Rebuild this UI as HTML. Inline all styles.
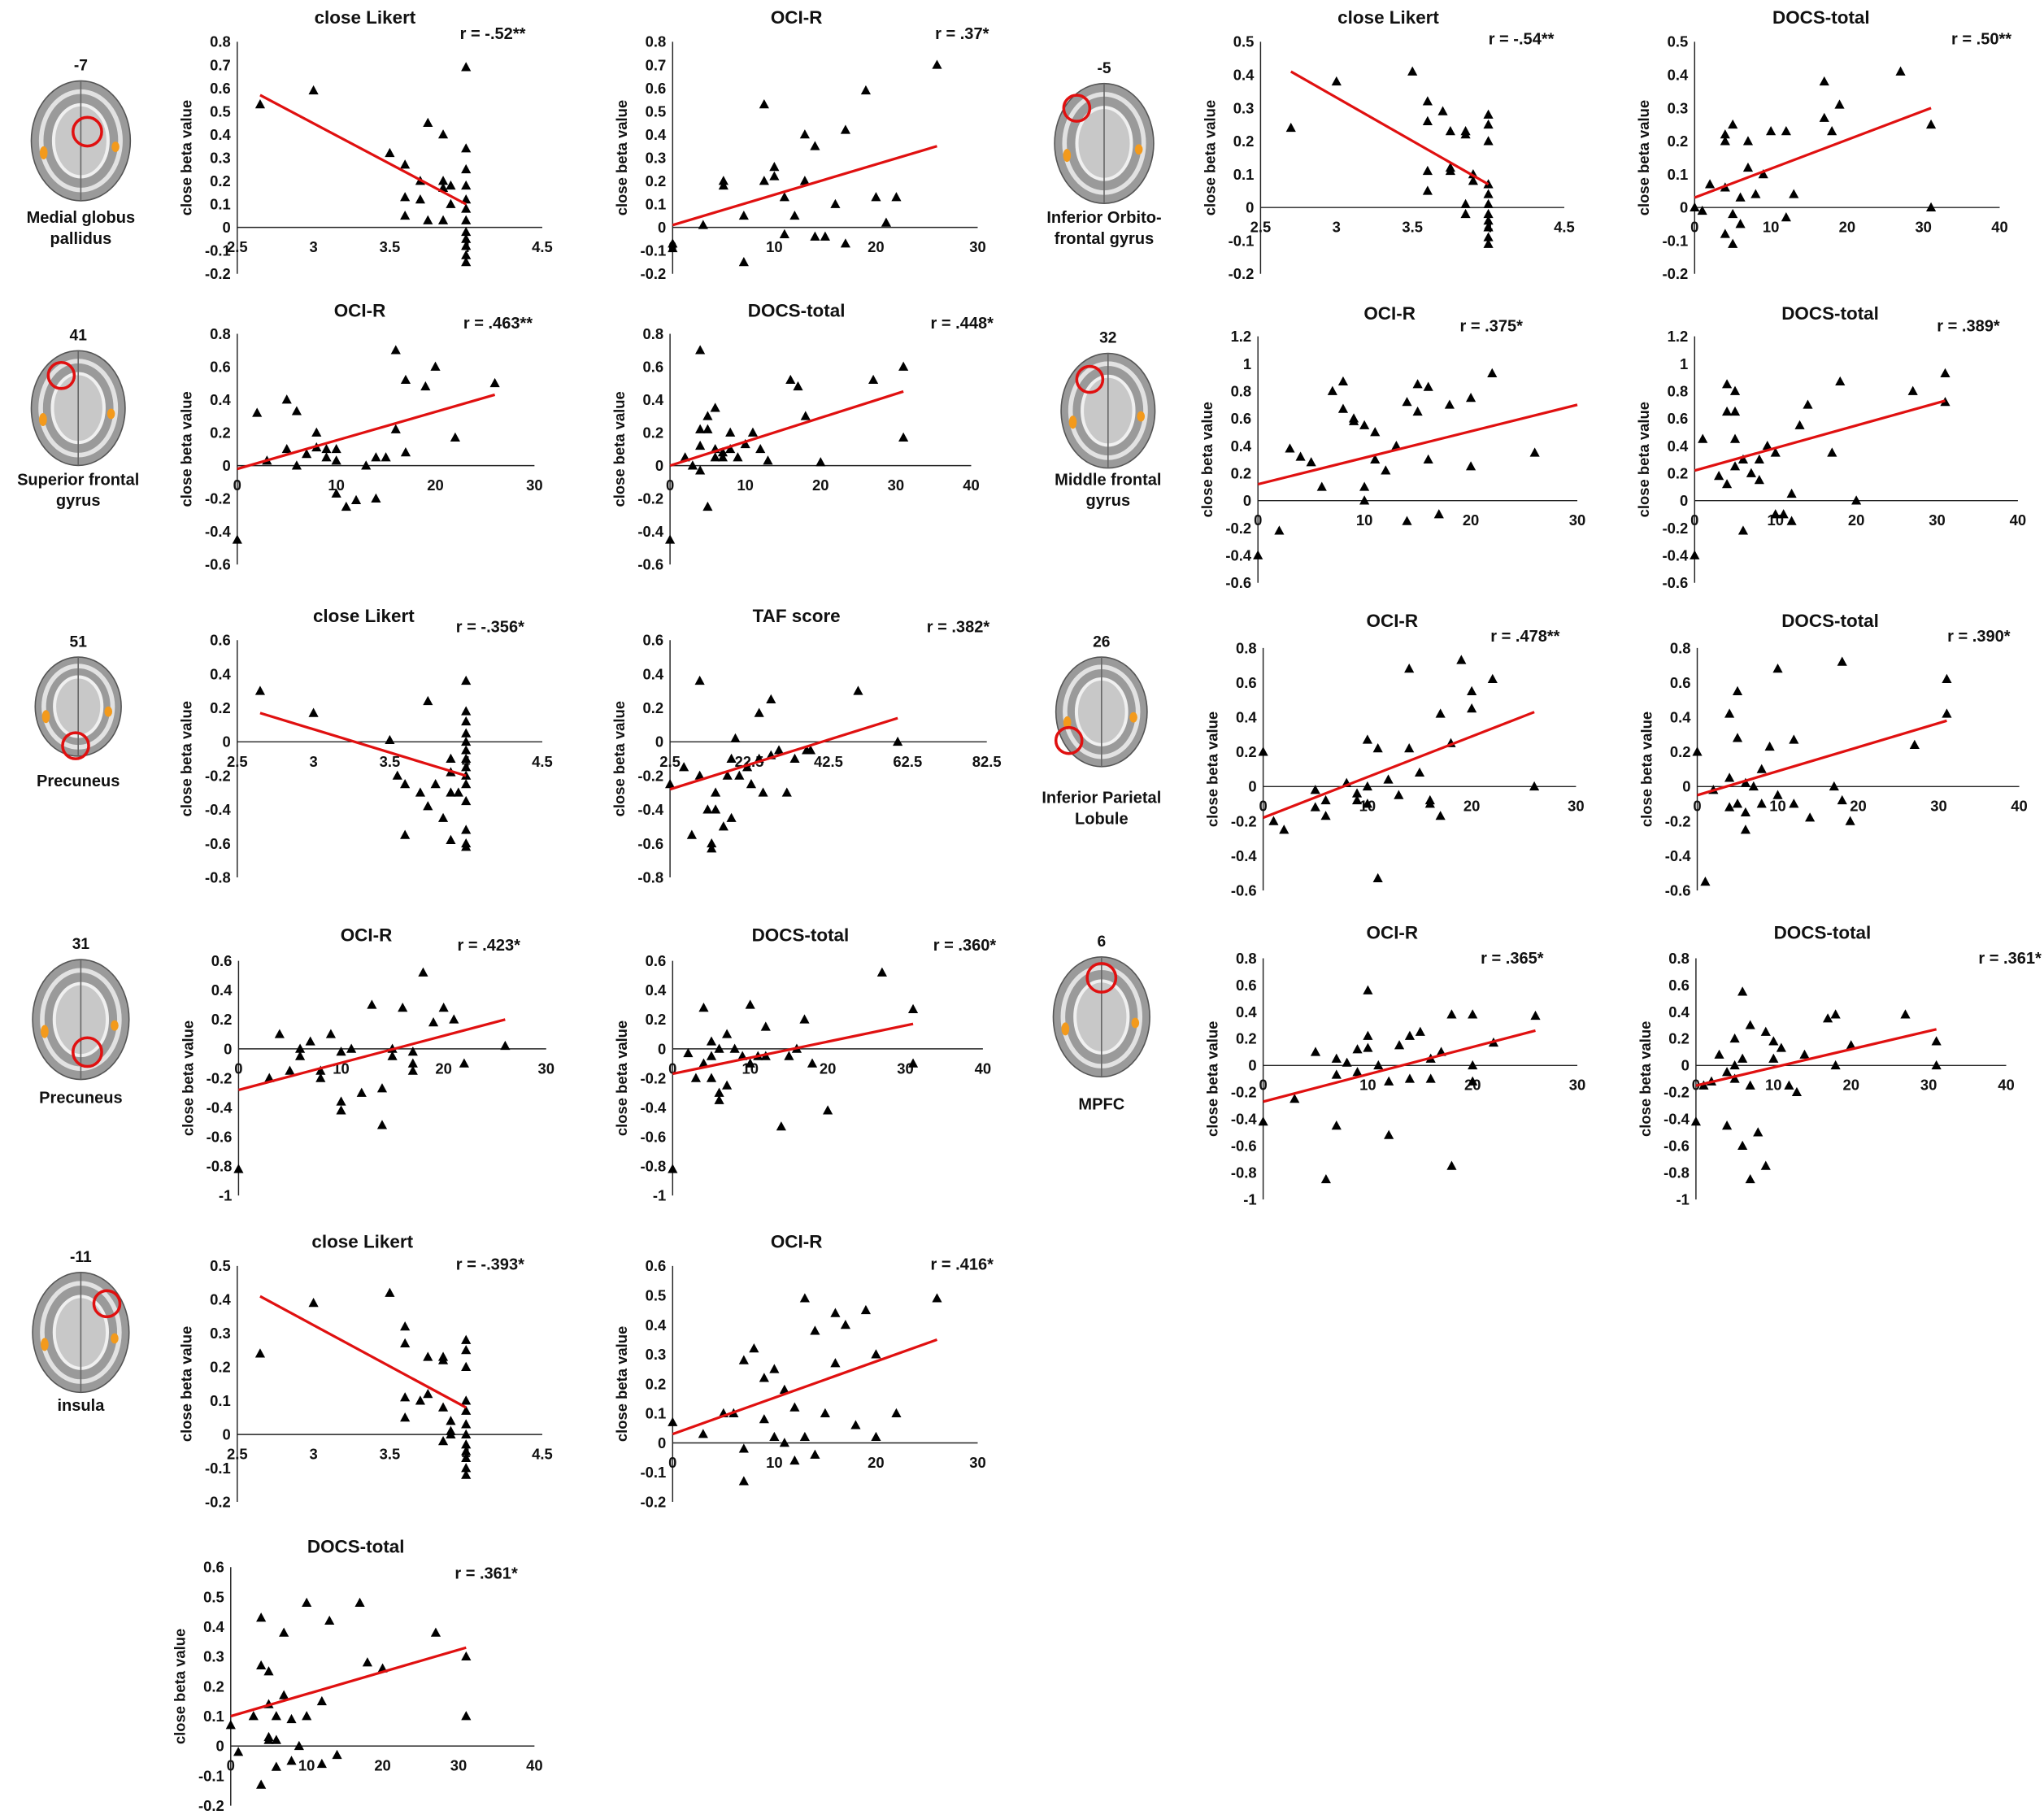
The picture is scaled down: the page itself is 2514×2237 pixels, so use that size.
<!DOCTYPE html>
<html><head><meta charset="utf-8"><style>
html,body{margin:0;padding:0;background:#fff;}
svg{display:block;font-family:"Liberation Sans",Arial,sans-serif;font-weight:bold;}
</style></head><body>
<svg id="fig" width="2514" height="2237" viewBox="0 0 1568 1395.2" xmlns="http://www.w3.org/2000/svg"></svg>
<script>
// ---- data arrays ----
const p1X=[2.65,3.0,3.5,3.6,3.6,3.6,3.75,3.7,3.75,3.85,3.85,3.85,3.85,3.9,3.9,4,4,4,4,4,4,4,4,4,4,4,4,3.7];
const p1Y=[0.53,0.59,0.32,0.27,0.13,0.05,0.45,0.2,0.03,0.4,0.2,0.17,0.03,0.18,0.1,0.69,0.34,0.25,0.18,0.12,0.08,0.03,-0.02,-0.05,-0.08,-0.12,-0.15,0.12];
const p1L=[[2.65,0.57],[4,0.1]];
const p2X=[0,0,5,5,3,7,7,9,9,10,10,11,11,13,14,13,12,14,15,16,17,17,19,20,21,22,26];
const p2Y=[-0.07,-0.09,0.2,0.18,0.01,-0.15,0.05,0.53,0.2,0.26,0.22,0.13,-0.03,0.4,0.35,0.2,0.05,-0.04,-0.04,0.1,0.42,-0.07,0.59,0.13,0.02,0.13,0.7];
const p2L=[[0,0.01],[26,0.35]];
const p3X=[2.7,3.0,3.5,3.6,3.6,3.7,3.6,3.6,3.75,3.75,3.85,3.85,3.75,3.9,3.85,3.85,4,4,4,4,4,4,4,4,4,4,4,3.9];
const p3Y=[0.24,0.38,0.41,0.32,0.26,0.29,0.11,0.05,0.12,0.11,0.23,0.22,0.23,0.1,0.01,-0.02,0.28,0.25,0.2,0.07,0.04,0.01,-0.02,-0.04,-0.06,-0.09,-0.11,0.08];
const p3L=[[2.7,0.41],[4,0.07]];
const p4X=[0,1,2,4,4,4,5,4,5,5,6,6,7,7,8,9,10,12,12,13,17,17,18,19,27,31,31];
const p4Y=[0,-0.01,0.07,0.06,0.2,0.22,0.25,-0.08,-0.11,-0.02,-0.05,0.03,0.12,0.2,0.04,0.1,0.23,0.23,-0.03,0.04,0.27,0.38,0.23,0.31,0.41,0.25,0];
const p4L=[[0,0.03],[31,0.3]];
const p5X=[0,2,3,5,6,5,6,7,8,8,9,9,10,10,10,11,12,13,14,15,16,16,17,17,19,20,22,26,14];
const p5Y=[-0.45,0.32,0.03,0.4,0.33,0.1,0,0.07,0.2,0.11,0.1,0.05,0.1,0.03,-0.17,-0.25,-0.21,0,0.05,0.05,0.7,0.22,0.52,0.08,0.48,0.6,0.17,0.5,-0.2];
const p5L=[[0,-0.02],[26,0.43]];
const p6X=[0,2,3,4,4,4,5,5,5,6,6,6,7,7,8,8,9,10,11,12,13,16,17,18,20,27,31,31,4];
const p6Y=[-0.45,0.05,0,0.7,0.22,0.12,0.3,0.22,-0.25,0.35,0.1,0.05,0.05,0.08,0.1,0.2,0.05,0.13,0.2,0.1,0.03,0.52,0.48,0.3,0.02,0.52,0.6,0.17,-0.03];
const p6L=[[0,0],[31,0.45]];
const p7X=[0,2,3,4,5,6,7,8,8,9,9,10,10,10,11,11,12,13,14,15,15,16,16,17,18,20,20,22,26,14];
const p7Y=[-0.4,-0.22,0.38,0.32,0.28,0.1,0.8,0.87,0.67,0.58,0.6,0.55,0.1,0,0.5,0.3,0.22,0.4,-0.15,0.85,0.65,0.83,0.3,-0.1,0.7,0.75,0.25,0.93,0.35,0.72];
const p7L=[[0,0.12],[30,0.7]];
const p8X=[0,1,3,4,4,4,5,5,5,5,6,6,7,8,8,9,10,10,12,12,13,14,17,18,20,27,31,31,11];
const p8Y=[-0.4,0.45,0.18,0.85,0.65,0.12,0.8,0.65,0.45,0.25,0.3,-0.22,0.2,0.3,0.15,0.4,0.35,-0.1,0.05,-0.15,0.55,0.7,0.35,0.87,0,0.8,0.93,0.72,-0.1];
const p8L=[[0,0.22],[31,0.73]];
const p9X=[2.65,3.0,3.5,3.55,3.6,3.6,3.7,3.75,3.75,3.8,3.85,3.9,3.9,3.9,3.95,4,4,4,4,4,4,4,4,4,4,4,4,4,4,3.9];
const p9Y=[0.3,0.17,0.01,-0.2,-0.25,-0.55,-0.3,0.24,-0.38,-0.25,-0.45,-0.1,-0.18,-0.58,-0.3,0.36,0.18,0.12,0.05,0,-0.05,-0.1,-0.15,-0.2,-0.25,-0.35,-0.52,-0.6,-0.62,-0.3];
const p9L=[[2.65,0.17],[4,-0.2]];
const p10X=[2.5,6,8,10,10,12,13,13,14,14,16,17,18,19,20,22,23,25,25,26,28,28,30,32,34,37,38,50,60,18];
const p10Y=[-0.25,-0.15,-0.55,0.36,-0.2,-0.4,-0.6,-0.63,-0.3,-0.4,-0.5,-0.2,-0.1,0.02,-0.2,-0.15,-0.25,0.17,-0.1,-0.3,0.25,-0.08,-0.05,-0.3,-0.1,-0.05,-0.05,0.3,0,-0.45];
const p10L=[[2.5,-0.28],[60,0.14]];
const p11X=[0,1,2,5,5,6,6,8,9,9,10,10,10,11,11,12,13,14,14,15,16,16,17,17,18,19,20,20,22,26];
const p11Y=[0.2,-0.2,-0.25,-0.02,-0.12,-0.08,-0.17,0.02,-0.08,-0.04,0.27,0,-0.1,0.22,-0.53,0.04,-0.05,0.68,0.22,0.08,-0.1,-0.08,0.42,-0.17,0.25,0.73,0.55,0.45,0.62,0];
const p11L=[[0,-0.18],[26,0.43]];
const p12X=[0,1,2,4,4,4,5,5,5,6,6,6,7,8,8,9,10,10,12,12,14,18,18,19,27,31,31,17];
const p12Y=[0.2,-0.55,-0.02,0.42,0.05,-0.12,0.55,0.28,-0.1,0.02,-0.15,-0.25,0,-0.1,0.1,0.23,0.68,-0.05,0.27,-0.1,-0.18,0.72,-0.08,-0.2,0.24,0.62,0.42,0];
const p12L=[[0,-0.05],[31,0.38]];
const p13X=[0,3,4,5,6,6,7,8,8,9,10,10,10,11,12,13,14,14,15,15,16,17,17,17,18,19,20,21,22,26];
const p13Y=[-0.82,-0.2,0.1,-0.15,0,-0.05,0.05,-0.2,-0.15,0.1,-0.36,-0.42,-0.02,0,-0.3,0.3,-0.52,-0.27,0,-0.05,0.28,-0.02,-0.1,-0.15,0.52,0.18,0.28,0.2,-0.1,0.02];
const p13L=[[0,-0.28],[26,0.2]];
const p14X=[0,2,3,4,4,5,5,5,6,6,6,7,7,8,9,10,10,11,12,12,14,15,17,18,20,27,31,31,16];
const p14Y=[-0.82,-0.03,-0.2,0.28,-0.1,0.05,-0.05,-0.2,0,-0.3,-0.35,0.1,-0.25,0,-0.05,0.3,-0.1,-0.05,0.15,-0.05,-0.53,-0.05,0.2,-0.1,-0.42,0.52,0.27,-0.1,0];
const p14L=[[0,-0.17],[31,0.17]];
const p15X=[0,3,5,6,7,7,7,8,9,9,10,10,10,11,12,12,13,14,14,15,16,17,18,18,20,20,20,22,26,16];
const p15Y=[-0.42,-0.25,0.1,-0.85,0.05,-0.07,-0.45,0.02,0.12,-0.05,0.56,0.22,0.13,0,-0.52,-0.12,0.15,0.22,-0.1,0.25,-0.1,0.1,-0.75,0.38,0.38,0,-0.12,0.17,0.37,0.05];
const p15L=[[0,-0.27],[26,0.26]];
const p16X=[0,1,2,3,4,4,5,5,5,6,6,6,7,7,7,8,9,9,10,10,11,12,13,14,17,18,18,20,27,31,31];
const p16Y=[-0.42,-0.15,-0.12,0.08,-0.05,-0.45,0.2,0,-0.1,0.55,0.05,-0.6,0.3,-0.15,-0.85,-0.5,0.25,-0.75,0.18,0.05,0.13,-0.15,-0.2,0.08,0.35,0.38,0,0.15,0.38,0.18,0];
const p16L=[[0,-0.15],[31,0.27]];
const p17X=[2.65,3.0,3.5,3.6,3.6,3.6,3.6,3.7,3.75,3.75,3.85,3.85,3.85,3.9,3.9,3.9,4,4,4,4,4,4,4,4,4,4,4,4,3.85];
const p17Y=[0.24,0.39,0.42,0.32,0.27,0.11,0.05,0.1,0.12,0.23,0.22,0.23,0.08,0.04,0.01,0,0.28,0.25,0.2,0.1,0.07,0.03,0,-0.03,-0.05,-0.07,-0.1,-0.12,-0.02];
const p17L=[[2.65,0.41],[4,0.08]];
const p18X=[0,3,5,6,7,7,7,8,9,10,10,11,11,12,12,13,13,14,14,15,16,16,17,18,19,20,20,22,26,9];
const p18Y=[0.07,0.03,0.1,0.1,0.28,-0.02,-0.13,0.32,0.22,0.25,0.02,0.18,0,0.12,-0.06,0.49,0.02,0.38,-0.04,0.1,0.44,0.27,0.4,0.06,0.45,0.3,0.02,0.1,0.49,0.08];
const p18L=[[0,0.03],[26,0.35]];
const p19X=[0,1,3,4,4,4,5,5,5,5,6,6,6,7,7,8,9,10,10,12,12,13,14,17,18,20,27,31,31,8];
const p19Y=[0.07,-0.02,0.1,0.43,0.27,-0.13,0.25,0.14,0.03,0.02,0.1,0.02,-0.07,0.38,0.17,0.09,0,0.48,0.1,0.15,-0.06,0.42,-0.03,0.48,0.28,0.26,0.38,0.3,0.1,-0.05];
const p19L=[[0,0.1],[31,0.33]];
const likertTicks=[2.5,3,3.5,4,4.5];
const ociTicks=[0,10,20,30];
const docsTicks=[0,10,20,30,40];
const tafTicks=[2.5,22.5,42.5,62.5,82.5];

// ---- layout (pixel positions, not data) ----
const panels=[
 {n:1,X:p1X,Y:p1Y,L:p1L,t:"close Likert",r:"r = -.52**",x0:182,x1:416,xmin:2.5,xmax:4.5,xt:likertTicks,yt:32,yb:210,ymin:-0.2,ymax:0.8,ys:0.1,tx:280,ty:18,rx:378,ry:30},
 {n:2,X:p2X,Y:p2Y,L:p2L,t:"OCI-R",r:"r = .37*",x0:516,x1:750,xmin:0,xmax:30,xt:ociTicks,yt:32,yb:210,ymin:-0.2,ymax:0.8,ys:0.1,tx:611,ty:18,rx:738,ry:30},
 {n:3,X:p3X,Y:p3Y,L:p3L,t:"close Likert",r:"r = -.54**",x0:967,x1:1200,xmin:2.5,xmax:4.5,xt:likertTicks,yt:32,yb:210,ymin:-0.2,ymax:0.5,ys:0.1,tx:1065,ty:18,rx:1167,ry:34},
 {n:4,X:p4X,Y:p4Y,L:p4L,t:"DOCS-total",r:"r = .50**",x0:1300,x1:1534,xmin:0,xmax:40,xt:docsTicks,yt:32,yb:210,ymin:-0.2,ymax:0.5,ys:0.1,tx:1397,ty:18,rx:1520,ry:34},
 {n:5,X:p5X,Y:p5Y,L:p5L,t:"OCI-R",r:"r = .463**",x0:182,x1:410,xmin:0,xmax:30,xt:ociTicks,yt:256,yb:433,ymin:-0.6,ymax:0.8,ys:0.2,tx:276,ty:243,rx:382,ry:252},
 {n:6,X:p6X,Y:p6Y,L:p6L,t:"DOCS-total",r:"r = .448*",x0:514,x1:745,xmin:0,xmax:40,xt:docsTicks,yt:256,yb:433,ymin:-0.6,ymax:0.8,ys:0.2,tx:611,ty:243,rx:738,ry:252},
 {n:7,X:p7X,Y:p7Y,L:p7L,t:"OCI-R",r:"r = .375*",x0:965,x1:1210,xmin:0,xmax:30,xt:ociTicks,yt:258,yb:447,ymin:-0.6,ymax:1.2,ys:0.2,tx:1066,ty:245,rx:1144,ry:254},
 {n:8,X:p8X,Y:p8Y,L:p8L,t:"DOCS-total",r:"r = .389*",x0:1300,x1:1548,xmin:0,xmax:40,xt:docsTicks,yt:258,yb:447,ymin:-0.6,ymax:1.2,ys:0.2,tx:1404,ty:245,rx:1510,ry:254},
 {n:9,X:p9X,Y:p9Y,L:p9L,t:"close Likert",r:"r = -.356*",x0:182,x1:416,xmin:2.5,xmax:4.5,xt:likertTicks,yt:491,yb:673,ymin:-0.8,ymax:0.6,ys:0.2,tx:279,ty:477,rx:376,ry:485},
 {n:10,X:p10X,Y:p10Y,L:p10L,t:"TAF score",r:"r = .382*",x0:514,x1:757,xmin:2.5,xmax:82.5,xt:tafTicks,yt:491,yb:673,ymin:-0.8,ymax:0.6,ys:0.2,tx:611,ty:477,rx:735,ry:485},
 {n:11,X:p11X,Y:p11Y,L:p11L,t:"OCI-R",r:"r = .478**",x0:969,x1:1209,xmin:0,xmax:30,xt:ociTicks,yt:497,yb:683,ymin:-0.6,ymax:0.8,ys:0.2,tx:1068,ty:481,rx:1170,ry:492},
 {n:12,X:p12X,Y:p12Y,L:p12L,t:"DOCS-total",r:"r = .390*",x0:1302,x1:1549,xmin:0,xmax:40,xt:docsTicks,yt:497,yb:683,ymin:-0.6,ymax:0.8,ys:0.2,tx:1404,ty:481,rx:1518,ry:492},
 {n:13,X:p13X,Y:p13Y,L:p13L,t:"OCI-R",r:"r = .423*",x0:183,x1:419,xmin:0,xmax:30,xt:ociTicks,yt:737,yb:917,ymin:-1,ymax:0.6,ys:0.2,tx:281,ty:722,rx:375,ry:729},
 {n:14,X:p14X,Y:p14Y,L:p14L,t:"DOCS-total",r:"r = .360*",x0:516,x1:754,xmin:0,xmax:40,xt:docsTicks,yt:737,yb:917,ymin:-1,ymax:0.6,ys:0.2,tx:614,ty:722,rx:740,ry:729},
 {n:15,X:p15X,Y:p15Y,L:p15L,t:"OCI-R",r:"r = .365*",x0:969,x1:1210,xmin:0,xmax:30,xt:ociTicks,yt:735,yb:920,ymin:-1,ymax:0.8,ys:0.2,tx:1068,ty:720,rx:1160,ry:739},
 {n:16,X:p16X,Y:p16Y,L:p16L,t:"DOCS-total",r:"r = .361*",x0:1301,x1:1539,xmin:0,xmax:40,xt:docsTicks,yt:735,yb:920,ymin:-1,ymax:0.8,ys:0.2,tx:1398,ty:720,rx:1566,ry:739,ra:'end'},
 {n:17,X:p17X,Y:p17Y,L:p17L,t:"close Likert",r:"r = -.393*",x0:182,x1:416,xmin:2.5,xmax:4.5,xt:likertTicks,yt:971,yb:1152,ymin:-0.2,ymax:0.5,ys:0.1,tx:278,ty:957,rx:376,ry:974},
 {n:18,X:p18X,Y:p18Y,L:p18L,t:"OCI-R",r:"r = .416*",x0:516,x1:750,xmin:0,xmax:30,xt:ociTicks,yt:971,yb:1152,ymin:-0.2,ymax:0.6,ys:0.1,tx:611,ty:957,rx:738,ry:974},
 {n:19,X:p19X,Y:p19Y,L:p19L,t:"DOCS-total",r:"r = .361*",x0:177,x1:410,xmin:0,xmax:40,xt:docsTicks,yt:1202,yb:1385,ymin:-0.2,ymax:0.6,ys:0.1,tx:273,ty:1191,rx:373,ry:1211}
];
const brains=[
 {cx:62,cy:108,rx:38,ry:46,num:"-7",lab:["Medial globus","pallidus"],ly:171,ccx:67,ccy:101,cr:11},
 {cx:847,cy:110,rx:38,ry:46,num:"-5",lab:["Inferior Orbito-","frontal gyrus"],ly:171,ccx:826,ccy:83,cr:10},
 {cx:60,cy:313,rx:36,ry:44,num:"41",lab:["Superior frontal","gyrus"],ly:372,ccx:47,ccy:288,cr:10},
 {cx:850,cy:315,rx:36,ry:44,num:"32",lab:["Middle frontal","gyrus"],ly:372,ccx:836,ccy:291,cr:10},
 {cx:60,cy:542,rx:33,ry:38,num:"51",lab:["Precuneus"],ly:603,ccx:58,ccy:572,cr:10},
 {cx:845,cy:546,rx:35,ry:42,num:"26",lab:["Inferior Parietal","Lobule"],ly:616,ccx:820,ccy:568,cr:10},
 {cx:62,cy:782,rx:37,ry:46,num:"31",lab:["Precuneus"],ly:846,ccx:67,ccy:807,cr:11},
 {cx:845,cy:780,rx:37,ry:46,num:"6",lab:["MPFC"],ly:851,ccx:845,ccy:750,cr:11},
 {cx:62,cy:1022,rx:37,ry:46,num:"-11",lab:["insula"],ly:1082,ccx:82,ccy:1000,cr:10}
];

const NS="http://www.w3.org/2000/svg";
const svg=document.getElementById('fig');
function mk(tag,attrs,parent,txt){const e=document.createElementNS(NS,tag);for(const k in attrs)e.setAttribute(k,attrs[k]);if(txt!==undefined)e.textContent=txt;(parent||svg).appendChild(e);return e;}
function fmt(v){return String(Number(v.toFixed(2)));}

panels.forEach(p=>{
  const g=mk('g',{});
  
  
  const sx=v=>p.x0+(v-p.xmin)/(p.xmax-p.xmin)*(p.x1-p.x0);
  const sy=v=>p.yb-(v-p.ymin)/(p.ymax-p.ymin)*(p.yb-p.yt);
  const y0=sy(0);
  const ya=mk('line',{x1:p.x0,y1:p.yt,x2:p.x0,y2:p.yb,stroke:'#222','stroke-width':0.9},g);
  
  
  const xa=mk('line',{x1:p.x0,y1:y0,x2:p.x1,y2:y0,stroke:'#222','stroke-width':0.9},g);
  
  
  const nT=Math.round((p.ymax-p.ymin)/p.ys);
  for(let i=0;i<=nT;i++){const v=p.ymin+i*p.ys;
    const t=mk('text',{x:p.x0-5,y:sy(v)+4,'text-anchor':'end','font-size':11.5,fill:'#111'},g,fmt(v));
    
    }
  p.xt.forEach(v=>{const t=mk('text',{x:sx(v),y:y0+19,'text-anchor':'middle','font-size':11.5,fill:'#111'},g,fmt(v));
    
    });
  const ym=(p.yt+p.yb)/2, yx=p.x0-35;
  const yl=mk('text',{x:yx,y:ym,'text-anchor':'middle','font-size':11.5,fill:'#111',transform:`rotate(-90 ${yx} ${ym})`},g,'close beta value');
  
  
  const tt=mk('text',{x:p.tx,y:p.ty,'text-anchor':'middle','font-size':14,fill:'#111'},g,p.t);
  
  
  const rt=mk('text',{x:p.rx,y:p.ry,'text-anchor':p.ra||'middle','font-size':12.5,fill:'#111'},g,p.r);
  
  
  p.X.forEach((xv,i)=>{const cx=sx(xv),cy=sy(p.Y[i]);
    const m=mk('polygon',{points:`${cx},${cy-4} ${cx-3.8},${cy+3} ${cx+3.8},${cy+3}`,fill:'#000'},g);
    
    });
  const ln=mk('line',{x1:sx(p.L[0][0]),y1:sy(p.L[0][1]),x2:sx(p.L[1][0]),y2:sy(p.L[1][1]),stroke:'#e01010','stroke-width':2},g);
  
  
});

brains.forEach((b,i)=>{
  const g=mk('g',{});
  
  
  mk('ellipse',{cx:b.cx,cy:b.cy,rx:b.rx,ry:b.ry,fill:'#9a9a9a',stroke:'#555','stroke-width':1},g);
  mk('ellipse',{cx:b.cx,cy:b.cy,rx:b.rx*0.8,ry:b.ry*0.82,fill:'none',stroke:'#e2e2e2','stroke-width':3.5},g);
  mk('ellipse',{cx:b.cx,cy:b.cy,rx:b.rx*0.55,ry:b.ry*0.6,fill:'#c8c8c8',stroke:'#f0f0f0','stroke-width':2.5},g);
  mk('line',{x1:b.cx,y1:b.cy-b.ry,x2:b.cx,y2:b.cy+b.ry,stroke:'#666','stroke-width':1},g);
  mk('ellipse',{cx:b.cx-b.rx*0.75,cy:b.cy+b.ry*0.2,rx:3,ry:5,fill:'#f39a1c'},g);
  mk('ellipse',{cx:b.cx+b.rx*0.7,cy:b.cy+b.ry*0.1,rx:3,ry:4,fill:'#f39a1c'},g);
  mk('circle',{cx:b.ccx,cy:b.ccy,r:b.cr,fill:'none',stroke:'#e01010','stroke-width':2.2},g);
  const nt=mk('text',{x:b.cx,y:b.cy-b.ry-8,'text-anchor':'middle','font-size':12,fill:'#111'},g,b.num);
  
  
  b.lab.forEach((l,j)=>{const t=mk('text',{x:b.cx,y:b.ly+j*16,'text-anchor':'middle','font-size':12.5,fill:'#111'},g,l);
    
    });
});
</script>
</body></html>
